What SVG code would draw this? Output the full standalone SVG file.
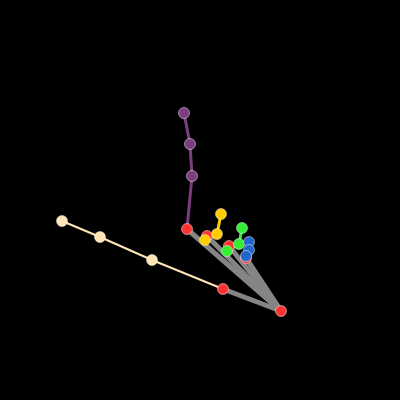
<svg xmlns="http://www.w3.org/2000/svg" width="400" height="400" viewBox="0 0 400 400">
<style>
.palm{stroke:#858585;stroke-width:5;fill:none;stroke-linecap:butt}
.bone{fill:none;stroke-linecap:butt}
.pt{stroke:#ffffff;stroke-opacity:0.6;stroke-width:0.8}
.red{fill:#ff3333}
.pur{fill:#7b3d80}
.crm{fill:#ffe4b5}
.yel{fill:#ffcc00}
.grn{fill:#33ee33}
.blu{fill:#1f66cc}
</style>
<rect width="400" height="400" fill="#000"/>
<g id="connectors">
<line class="palm" x1="281" y1="311" x2="187" y2="229"/>
<line class="palm" x1="281" y1="311" x2="223" y2="289"/>
<line class="palm" x1="281" y1="311" x2="207" y2="236"/>
<line class="palm" x1="281" y1="311" x2="229" y2="246"/>
<line class="palm" x1="281" y1="311" x2="246" y2="258"/>
<polyline class="bone" stroke="#7b3d80" stroke-width="3" points="187,229 192,176 190,144 184,113"/>
<polyline class="bone" stroke="#ffe4b5" stroke-width="2" points="223,289 152,260 100,237 62,221"/>
<polyline class="bone" stroke="#ffcc00" stroke-width="3" points="207,236 205,240 217,234 221,214"/>
<polyline class="bone" stroke="#33ee33" stroke-width="3" points="229,246 227,251 239,244 242,228"/>
<polyline class="bone" stroke="#1f66cc" stroke-width="3" points="246,258 246,256 249,250 249,242"/>
</g>
<g id="wrist"><circle class="pt red" cx="281" cy="311" r="5.5"/></g>
<g id="finger-purple">
<circle class="pt red" cx="187" cy="229" r="5.5"/>
<circle class="pt pur" cx="192" cy="176" r="5.5"/>
<circle class="pt pur" cx="190" cy="144" r="5.5"/>
<circle class="pt pur" cx="184" cy="113" r="5.5"/>
</g>
<g id="finger-cream">
<circle class="pt red" cx="223" cy="289" r="5.5"/>
<circle class="pt crm" cx="152" cy="260" r="5.5"/>
<circle class="pt crm" cx="100" cy="237" r="5.5"/>
<circle class="pt crm" cx="62" cy="221" r="5.5"/>
</g>
<g id="finger-yellow">
<circle class="pt red" cx="207" cy="236" r="5.5"/>
<circle class="pt yel" cx="221" cy="214" r="5.5"/>
<circle class="pt yel" cx="217" cy="234" r="5.5"/>
<circle class="pt yel" cx="205" cy="240" r="5.5"/>
</g>
<g id="finger-green">
<circle class="pt red" cx="229" cy="246" r="5.5"/>
<circle class="pt grn" cx="242" cy="228" r="5.5"/>
<circle class="pt grn" cx="239" cy="244" r="5.5"/>
<circle class="pt grn" cx="227" cy="251" r="5.5"/>
</g>
<g id="finger-blue">
<circle class="pt red" cx="246" cy="258" r="5.5"/>
<circle class="pt blu" cx="249" cy="242" r="5.5"/>
<circle class="pt blu" cx="249" cy="250" r="5.5"/>
<circle class="pt blu" cx="246" cy="256" r="5.5"/>
</g>
</svg>
